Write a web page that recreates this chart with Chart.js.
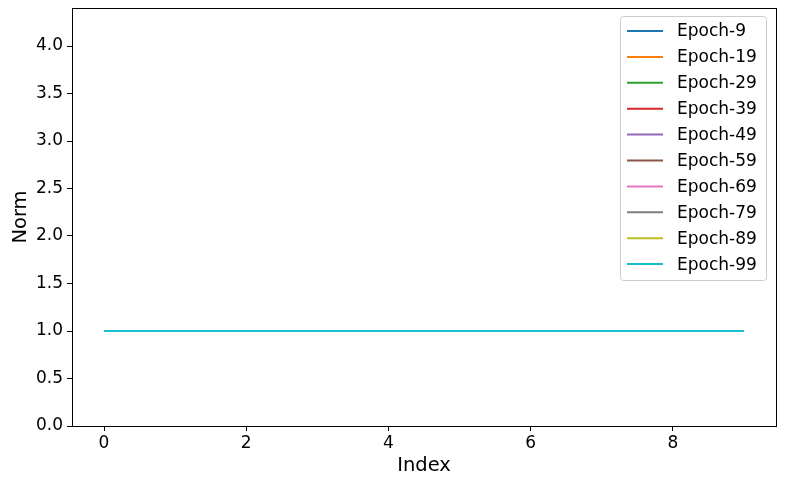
<!doctype html>
<html>
<head>
  <meta charset="utf-8">
  <title>Norm per index</title>
  <script src="https://cdn.jsdelivr.net/npm/chart.js@4.4.1/dist/chart.umd.min.js"></script>
  <style>
    body{margin:0;background:#fff;}
    #normChart{display:block;}
  </style>
</head>
<body>
<canvas id="normChart" width="792" height="478"></canvas>

<script>
// ---- data ----
const indexValues = [0, 1, 2, 3, 4, 5, 6, 7, 8, 9];
const epochLabels = ['Epoch-9','Epoch-19','Epoch-29','Epoch-39','Epoch-49',
                     'Epoch-59','Epoch-69','Epoch-79','Epoch-89','Epoch-99'];
const epoch9  = [1, 1, 1, 1, 1, 1, 1, 1, 1, 1];
const epoch19 = [1, 1, 1, 1, 1, 1, 1, 1, 1, 1];
const epoch29 = [1, 1, 1, 1, 1, 1, 1, 1, 1, 1];
const epoch39 = [1, 1, 1, 1, 1, 1, 1, 1, 1, 1];
const epoch49 = [1, 1, 1, 1, 1, 1, 1, 1, 1, 1];
const epoch59 = [1, 1, 1, 1, 1, 1, 1, 1, 1, 1];
const epoch69 = [1, 1, 1, 1, 1, 1, 1, 1, 1, 1];
const epoch79 = [1, 1, 1, 1, 1, 1, 1, 1, 1, 1];
const epoch89 = [1, 1, 1, 1, 1, 1, 1, 1, 1, 1];
const epoch99 = [1, 1, 1, 1, 1, 1, 1, 1, 1, 1];
const xTicks = [0, 2, 4, 6, 8];
const yTicks = [0, 0.5, 1, 1.5, 2, 2.5, 3, 3.5, 4];

const colors = ['#1f77b4','#ff7f0e','#2ca02c','#d62728','#9467bd',
                '#8c564b','#e377c2','#7f7f7f','#bcbd22','#17becf'];
const series = [epoch9, epoch19, epoch29, epoch39, epoch49,
                epoch59, epoch69, epoch79, epoch89, epoch99];

const FONT = "'DejaVu Sans', sans-serif";

// frame (top/right spines) + legend box in the upper right
const framePlugin = {
  id: 'frame',
  afterDraw(chart) {
    const {ctx, chartArea: a} = chart;
    ctx.save();
    ctx.strokeStyle = '#000';
    ctx.lineWidth = 1;
    ctx.strokeRect(Math.round(a.left) + 0.5, Math.round(a.top) + 0.5,
                   Math.round(a.right - a.left), Math.round(a.bottom - a.top));

    // legend
    const ds = chart.data.datasets;
    const w = 146, rowH = 25.9;
    const h = 264;
    const x0 = a.right - 10 - w, y0 = a.top + 8;
    ctx.beginPath();
    ctx.roundRect(x0 + 0.5, y0 + 0.5, w, h, 3);
    ctx.fillStyle = 'rgba(255,255,255,0.8)';
    ctx.fill();
    ctx.strokeStyle = '#cccccc';
    ctx.stroke();
    ctx.font = '17px ' + FONT;
    ctx.textBaseline = 'middle';
    ctx.textAlign = 'left';
    ds.forEach((d, i) => {
      const y = y0 + 15 + i * rowH;
      ctx.beginPath();
      ctx.strokeStyle = d.borderColor;
      ctx.lineWidth = 2;
      ctx.moveTo(x0 + 7, y);
      ctx.lineTo(x0 + 43, y);
      ctx.stroke();
      ctx.fillStyle = '#000';
      ctx.fillText(d.label, x0 + 57, y + 1);
    });
    ctx.restore();
  }
};

new Chart(document.getElementById('normChart'), {
  type: 'line',
  data: {
    datasets: epochLabels.map((label, i) => ({
      label,
      data: indexValues.map((x, j) => ({x, y: series[i][j]})),
      borderColor: colors[i],
      backgroundColor: colors[i],
      borderWidth: 2,
      pointRadius: 0,
      tension: 0,
      fill: false,
      order: epochLabels.length - i   // later epochs drawn on top
    }))
  },
  options: {
    responsive: false,
    animation: false,
    layout: {padding: {left: 0, right: 16, top: 8, bottom: 0}},
    plugins: {legend: {display: false}, tooltip: {enabled: false}},
    scales: {
      x: {
        type: 'linear',
        min: -0.45, max: 9.45,
        afterBuildTicks: s => { s.ticks = xTicks.map(v => ({value: v})); },
        afterFit: s => { s.height = 52; s.paddingLeft = 0; s.paddingRight = 0; },
        ticks: {color: '#000', font: {family: FONT, size: 17}, padding: 2,
                maxRotation: 0, callback: v => String(v)},
        grid: {drawOnChartArea: false, tickLength: 5, tickColor: '#000'},
        border: {display: true, color: '#000', width: 1},
        title: {display: true, text: 'Index', color: '#000',
                font: {family: FONT, size: 19.5}, padding: {top: 0, bottom: 0}}
      },
      y: {
        min: 0, max: 4.4,
        afterBuildTicks: s => { s.ticks = yTicks.map(v => ({value: v})); },
        afterFit: s => { s.width = 72; s.paddingTop = 0; s.paddingBottom = 0; },
        ticks: {color: '#000', font: {family: FONT, size: 17}, padding: 4,
                callback: v => v.toFixed(1)},
        grid: {drawOnChartArea: false, tickLength: 5, tickColor: '#000'},
        border: {display: true, color: '#000', width: 1},
        title: {display: true, text: 'Norm', color: '#000',
                font: {family: FONT, size: 19.5}, padding: {top: 9, bottom: 0}}
      }
    }
  },
  plugins: [framePlugin]
});
</script>
</body>
</html>
